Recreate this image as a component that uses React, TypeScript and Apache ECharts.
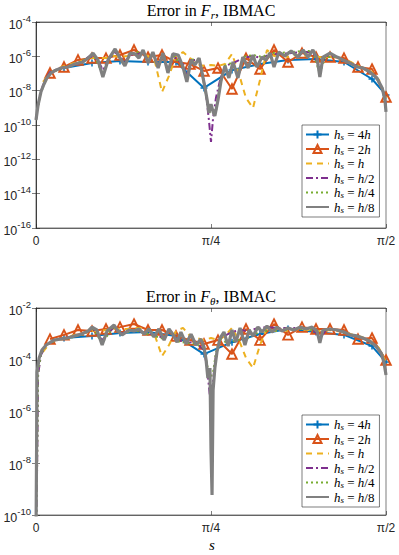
import React, { useEffect, useRef } from 'react';
import * as echarts from 'echarts';

// ---------- shared x positions (s / (pi/2)) ----------
const X_4H = [0.08, 0.16, 0.24, 0.32, 0.4, 0.48, 0.56, 0.64, 0.72, 0.8, 0.88, 0.96, 1.0];
const X_2H = [0.04, 0.08, 0.12, 0.16, 0.2, 0.24, 0.28, 0.32, 0.36, 0.4, 0.44, 0.48, 0.52, 0.56, 0.6, 0.64, 0.68, 0.72, 0.76, 0.8, 0.84, 0.88, 0.92, 0.96, 1.0];
const X_H = [0.02, 0.04, 0.06, 0.08, 0.1, 0.12, 0.14, 0.16, 0.18, 0.2, 0.22, 0.24, 0.26, 0.28, 0.3, 0.32, 0.34, 0.36, 0.38, 0.4, 0.42, 0.44, 0.46, 0.48, 0.5, 0.52, 0.54, 0.56, 0.58, 0.6, 0.62, 0.64, 0.66, 0.68, 0.7, 0.72, 0.74, 0.76, 0.78, 0.8, 0.82, 0.84, 0.86, 0.88, 0.9, 0.92, 0.94, 0.96, 0.98, 1.0];

// ---------- Error in F_r (log10 of error) ----------
const FR_4H_LOG = [-6.68, -6.39, -6.27, -6.33, -6.33, -7.84, -6.8, -6.45, -6.21, -6.15, -6.33, -7.32, -8.25];
const FR_2H_LOG = [-6.97, -6.62, -6.21, -6.1, -6.1, -5.92, -5.63, -6.04, -5.92, -6.33, -6.45, -6.85, -6.68, -7.9, -6.1, -6.74, -5.63, -6.33, -5.81, -6.04, -6.04, -6.1, -6.62, -6.74, -8.37];
const FR_H_LOG = [-7.49, -6.97, -6.74, -6.56, -6.45, -6.33, -6.21, -6.1, -6.1, -6.1, -5.98, -6.04, -5.98, -5.86, -5.86, -5.98, -6.33, -8.08, -7.14, -5.98, -5.75, -6.1, -6.45, -6.56, -6.5, -6.56, -6.45, -5.86, -7.03, -8.43, -9.01, -7.38, -5.63, -5.98, -5.92, -6.04, -5.92, -5.98, -5.98, -6.04, -6.04, -6.04, -6.1, -6.21, -6.33, -6.56, -6.74, -6.91, -7.38, -8.43];
const FR_H2_X = [0, 0.011, 0.023, 0.04, 0.069, 0.097, 0.126, 0.154, 0.177, 0.191, 0.206, 0.226, 0.254, 0.269, 0.306, 0.32, 0.334, 0.349, 0.363, 0.377, 0.391, 0.42, 0.431, 0.443, 0.466, 0.477, 0.486, 0.494, 0.5, 0.506, 0.514, 0.526, 0.54, 0.563, 0.591, 0.62, 0.646, 0.669, 0.697, 0.729, 0.763, 0.791, 0.811, 0.826, 0.86, 0.897, 0.934, 0.974, 0.989, 1.0];
const FR_H2_LOG = [-9.71, -8.25, -7.49, -6.91, -6.68, -6.56, -6.39, -5.98, -6.21, -6.8, -6.21, -5.75, -6.33, -5.92, -5.81, -6.33, -5.86, -6.56, -5.92, -6.8, -5.98, -6.45, -7.09, -6.21, -6.21, -7.09, -8.25, -9.71, -10.99, -9.59, -8.43, -7.38, -6.56, -6.39, -6.1, -5.98, -6.1, -5.86, -5.86, -5.81, -5.75, -5.75, -6.68, -5.98, -6.04, -6.39, -6.68, -7.26, -7.84, -8.83];
const FR_H4_X = [0, 0.011, 0.023, 0.04, 0.069, 0.111, 0.149, 0.163, 0.191, 0.206, 0.226, 0.254, 0.269, 0.306, 0.32, 0.334, 0.349, 0.363, 0.377, 0.391, 0.42, 0.431, 0.443, 0.466, 0.477, 0.489, 0.497, 0.506, 0.514, 0.526, 0.54, 0.563, 0.577, 0.591, 0.62, 0.646, 0.669, 0.694, 0.729, 0.763, 0.791, 0.811, 0.826, 0.86, 0.897, 0.934, 0.974, 0.989, 1.0];
const FR_H4_LOG = [-9.71, -8.31, -7.61, -6.97, -6.74, -6.45, -6.1, -5.86, -7.03, -6.21, -5.69, -6.45, -5.86, -5.69, -6.33, -5.81, -6.62, -5.86, -6.91, -5.92, -6.56, -7.38, -6.21, -6.15, -7.26, -8.66, -9.24, -9.13, -9.24, -7.67, -6.56, -6.33, -7.14, -6.04, -5.92, -6.04, -5.81, -5.81, -5.75, -5.69, -5.69, -7.03, -6.04, -6.04, -6.39, -6.68, -7.26, -7.84, -9.01];
const FR_H8_X = [0, 0.006, 0.014, 0.023, 0.031, 0.043, 0.057, 0.074, 0.091, 0.111, 0.134, 0.149, 0.163, 0.177, 0.191, 0.206, 0.226, 0.24, 0.254, 0.269, 0.283, 0.294, 0.306, 0.32, 0.334, 0.349, 0.363, 0.377, 0.391, 0.406, 0.42, 0.431, 0.443, 0.454, 0.466, 0.474, 0.483, 0.489, 0.494, 0.5, 0.506, 0.511, 0.52, 0.529, 0.54, 0.551, 0.563, 0.577, 0.591, 0.606, 0.62, 0.631, 0.646, 0.657, 0.669, 0.68, 0.694, 0.711, 0.729, 0.749, 0.763, 0.777, 0.791, 0.803, 0.811, 0.82, 0.84, 0.86, 0.877, 0.897, 0.917, 0.934, 0.954, 0.974, 0.989, 0.997, 1.0];
const FR_H8_LOG = [-9.71, -8.83, -8.08, -7.61, -7.26, -6.97, -6.8, -6.68, -6.62, -6.45, -6.33, -6.1, -5.81, -6.21, -7.2, -6.21, -5.57, -6.1, -6.56, -5.81, -5.86, -6.1, -5.63, -6.39, -5.75, -6.68, -5.81, -6.97, -5.86, -5.92, -6.62, -7.49, -6.21, -6.5, -6.1, -6.91, -7.84, -8.54, -9.3, -8.78, -9.24, -9.47, -8.54, -7.38, -6.56, -7.26, -6.33, -7.26, -6.04, -6.68, -5.92, -6.62, -6.04, -6.21, -5.81, -6.62, -5.75, -5.98, -5.69, -6.04, -5.63, -6.04, -5.63, -6.1, -7.2, -6.04, -5.81, -6.04, -6.21, -6.39, -6.62, -6.68, -6.91, -7.26, -7.84, -8.54, -9.24];

// ---------- Error in F_theta (log10 of error) ----------
const FT_4H_LOG = [-3.16, -3.08, -2.97, -2.93, -3.08, -3.78, -3.32, -3.01, -2.81, -2.93, -3.04, -3.47, -4.09];
const FT_2H_LOG = [-3.2, -3.04, -2.85, -2.89, -2.81, -2.74, -2.62, -2.85, -2.85, -3.08, -3.24, -3.39, -3.24, -3.78, -2.81, -3.24, -2.62, -3.04, -2.74, -2.81, -2.81, -2.85, -3.2, -3.16, -4.01];
const FT_H_LOG = [-3.7, -3.35, -3.24, -3.16, -3.08, -3.01, -2.97, -2.89, -2.89, -2.85, -2.81, -2.81, -2.81, -2.77, -2.77, -2.85, -3.08, -3.86, -3.43, -2.89, -2.77, -3.08, -3.16, -3.24, -3.16, -3.24, -3.08, -2.77, -3.24, -3.93, -4.32, -3.43, -2.77, -2.89, -2.85, -2.89, -2.81, -2.85, -2.85, -2.89, -2.89, -2.85, -2.89, -2.93, -3.01, -3.08, -3.16, -3.32, -3.55, -4.09];
const FT_H2_X = [0, 0.006, 0.014, 0.029, 0.057, 0.097, 0.137, 0.16, 0.189, 0.223, 0.246, 0.28, 0.309, 0.337, 0.366, 0.38, 0.403, 0.429, 0.457, 0.48, 0.489, 0.497, 0.506, 0.514, 0.526, 0.56, 0.583, 0.609, 0.634, 0.66, 0.689, 0.72, 0.754, 0.789, 0.811, 0.829, 0.86, 0.897, 0.934, 0.971, 0.989, 1.0];
const FT_H2_LOG = [-12, -4.59, -3.82, -3.43, -3.24, -3.12, -3.01, -2.77, -3.24, -2.74, -2.97, -2.85, -2.93, -3.04, -3.16, -2.85, -3.24, -3.32, -3.35, -3.62, -4.32, -5.44, -4.79, -3.82, -3.16, -2.93, -2.85, -2.89, -2.77, -2.74, -2.77, -2.77, -2.77, -2.77, -3.16, -2.85, -2.85, -3.04, -3.16, -3.47, -3.82, -4.48];
const FT_H4_X = [0, 0.006, 0.014, 0.029, 0.057, 0.097, 0.137, 0.16, 0.189, 0.223, 0.246, 0.28, 0.309, 0.337, 0.366, 0.38, 0.403, 0.429, 0.457, 0.48, 0.489, 0.497, 0.506, 0.514, 0.526, 0.549, 0.571, 0.597, 0.62, 0.646, 0.674, 0.703, 0.737, 0.771, 0.803, 0.811, 0.82, 0.86, 0.897, 0.934, 0.971, 0.989, 1.0];
const FT_H4_LOG = [-12, -4.48, -3.78, -3.43, -3.24, -3.16, -3.01, -2.74, -3.35, -2.7, -3.01, -2.85, -2.97, -3.08, -3.2, -2.81, -3.28, -3.35, -3.39, -3.55, -4.2, -4.71, -4.48, -3.74, -3.16, -3.39, -3.24, -3.24, -3.04, -2.89, -2.89, -2.85, -2.81, -2.81, -2.89, -3.28, -2.85, -2.85, -3.04, -3.16, -3.47, -3.78, -4.55];
const FT_H8_X = [0, 0.003, 0.009, 0.017, 0.029, 0.051, 0.089, 0.129, 0.149, 0.16, 0.174, 0.189, 0.203, 0.223, 0.234, 0.246, 0.266, 0.28, 0.294, 0.309, 0.323, 0.337, 0.351, 0.366, 0.38, 0.391, 0.403, 0.414, 0.429, 0.443, 0.457, 0.471, 0.48, 0.486, 0.491, 0.497, 0.5, 0.503, 0.506, 0.511, 0.517, 0.526, 0.537, 0.549, 0.56, 0.571, 0.583, 0.597, 0.609, 0.62, 0.634, 0.646, 0.66, 0.674, 0.689, 0.703, 0.72, 0.737, 0.754, 0.771, 0.789, 0.803, 0.811, 0.82, 0.84, 0.86, 0.88, 0.897, 0.917, 0.934, 0.954, 0.971, 0.986, 0.994, 1.0];
const FT_H8_LOG = [-11, -4.48, -3.93, -3.62, -3.43, -3.24, -3.16, -3.01, -2.89, -2.74, -2.85, -3.43, -2.89, -2.66, -2.89, -3.04, -2.85, -2.89, -2.81, -3.01, -2.81, -3.12, -2.81, -3.24, -2.81, -3.01, -3.32, -2.93, -3.39, -3.01, -3.43, -3.2, -3.51, -4.01, -4.71, -4.32, -7.49, -9.23, -5.17, -4.32, -3.7, -3.16, -2.93, -3.47, -2.85, -3.32, -2.77, -3.43, -2.85, -3.08, -2.74, -2.93, -2.7, -2.93, -2.74, -2.89, -2.77, -2.85, -2.74, -2.81, -2.74, -2.89, -3.35, -2.85, -2.81, -2.85, -2.93, -3.04, -3.08, -3.16, -3.28, -3.47, -3.74, -4.09, -4.59];

// ---------- ticks & labels ----------
const FR_Y_TICKS = [1e-16, 1e-14, 1e-12, 1e-10, 1e-8, 1e-6, 1e-4];
const FT_Y_TICKS = [1e-10, 1e-8, 1e-6, 1e-4, 1e-2];
const X_TICKS = [0, 0.5, 1];
const X_TICK_LABELS = ['0', 'π/4', 'π/2'];
const SERIES_NAMES = ['hs = 4h', 'hs = 2h', 'hs = h', 'hs = h/2', 'hs = h/4', 'hs = h/8'];
const LEGEND_TEXT: Record<string, string> = {
  'hs = 4h': '{i|h}{sub|s}{n| = 4}{i|h}',
  'hs = 2h': '{i|h}{sub|s}{n| = 2}{i|h}',
  'hs = h': '{i|h}{sub|s}{n| = }{i|h}',
  'hs = h/2': '{i|h}{sub|s}{n| = }{i|h}{n|/2}',
  'hs = h/4': '{i|h}{sub|s}{n| = }{i|h}{n|/4}',
  'hs = h/8': '{i|h}{sub|s}{n| = }{i|h}{n|/8}',
};
const TITLES = [
  '{n|Error in }{i|F}{s|r}{n|, IBMAC}',
  '{n|Error in }{i|F}{s|θ}{n|, IBMAC}',
];

const SANS = '"Liberation Sans", Arial, sans-serif';
const SERIF = '"Liberation Serif", "DejaVu Serif", serif';
const AXIS = '#262626';
const CLEAR = 'rgba(255,255,255,0)';

const STYLES = [
  { color: '#0072BD', width: 2, type: 'solid' as any, symbol: 'path://M5 0V10M0 5H10', size: 7, bw: 1.5 },
  { color: '#D95319', width: 2, type: 'solid' as any, symbol: 'triangle', size: 9.5, bw: 1.9 },
  { color: '#EDB120', width: 2, type: [6, 5] as any, symbol: '', size: 0, bw: 0 },
  { color: '#7E2F8E', width: 2, type: [7, 3, 2, 3] as any, symbol: '', size: 0, bw: 0 },
  { color: '#77AC30', width: 2, type: [2, 3] as any, symbol: '', size: 0, bw: 0 },
  { color: '#808080', width: 3.2, type: 'solid' as any, symbol: '', size: 0, bw: 0 },
];

const toData = (xs: number[], logs: number[]) => {
  const n = Math.min(xs.length, logs.length);
  const out: number[][] = [];
  for (let i = 0; i < n; i++) out.push([xs[i], Math.pow(10, logs[i])]);
  return out;
};

const makeSeries = (axisIdx: number, sets: [number[], number[]][]) =>
  sets.map(([xs, logs], k) => {
    const st = STYLES[k];
    return {
      type: 'line',
      name: SERIES_NAMES[k],
      xAxisIndex: axisIdx,
      yAxisIndex: axisIdx,
      data: toData(xs, logs),
      showSymbol: !!st.symbol,
      symbol: st.symbol || 'none',
      symbolSize: st.size,
      clip: true,
      silent: true,
      z: 2 + k,
      lineStyle: { color: st.color, width: st.width, type: st.type },
      itemStyle: st.symbol
        ? { color: CLEAR, borderColor: st.color, borderWidth: st.bw }
        : { color: CLEAR, borderColor: CLEAR, borderWidth: 0 },
      emphasis: { disabled: true },
    };
  });

const GRIDS = [
  { top: 22, height: 206, ymin: 1e-16, ymax: 1e-4, ticks: FR_Y_TICKS, legendTop: 125, titleY: 10 },
  { top: 308, height: 207, ymin: 1e-10, ymax: 1e-2, ticks: FT_Y_TICKS, legendTop: 415, titleY: 296 },
];

const buildOption = () => {
  const grid = GRIDS.map((g) => ({ left: 36, width: 350, top: g.top, height: g.height, show: true, borderColor: AXIS, borderWidth: 0.6, backgroundColor: '#fff' }));
  const xAxis: any[] = [];
  const yAxis: any[] = [];
  GRIDS.forEach((g, gi) => {
    ['bottom', 'top'].forEach((pos) => {
      xAxis.push({
        type: 'value', gridIndex: gi, position: pos, min: 0, max: 1, interval: 0.5,
        axisLine: { show: true, onZero: false, lineStyle: { color: AXIS, width: 0.6 } },
        axisTick: { show: true, inside: true, length: 4, customValues: X_TICKS, lineStyle: { color: AXIS, width: 0.6 } },
        axisLabel: {
          show: pos === 'bottom', margin: 7, color: '#262626', fontFamily: SANS, fontSize: 12,
          customValues: X_TICKS,
          formatter: (v: number) => X_TICK_LABELS[Math.round(v * 2)] ?? '',
        },
        splitLine: { show: false },
      });
    });
    ['left', 'right'].forEach((pos) => {
      yAxis.push({
        type: 'log', logBase: 10, gridIndex: gi, position: pos, min: g.ymin, max: g.ymax,
        axisLine: { show: true, lineStyle: { color: AXIS, width: 0.6 } },
        axisTick: { show: true, inside: true, length: 4, customValues: g.ticks, lineStyle: { color: AXIS, width: 0.6 } },
        axisLabel: {
          show: pos === 'left', margin: 5, customValues: g.ticks,
          formatter: (v: number) => `{b|10}{e|${Math.round(Math.log10(v))}}`,
          rich: {
            b: { fontFamily: SANS, fontSize: 12.5, color: '#262626', lineHeight: 18, verticalAlign: 'bottom' },
            e: { fontFamily: SANS, fontSize: 9.5, color: '#262626', lineHeight: 11, verticalAlign: 'top' },
          },
        },
        splitLine: { show: false },
      });
    });
  });

  const series = [
    ...makeSeries(0, [[X_4H, FR_4H_LOG], [X_2H, FR_2H_LOG], [X_H, FR_H_LOG], [FR_H2_X, FR_H2_LOG], [FR_H4_X, FR_H4_LOG], [FR_H8_X, FR_H8_LOG]]),
    ...makeSeries(2, [[X_4H, FT_4H_LOG], [X_2H, FT_2H_LOG], [X_H, FT_H_LOG], [FT_H2_X, FT_H2_LOG], [FT_H4_X, FT_H4_LOG], [FT_H8_X, FT_H8_LOG]]),
  ];

  const legendRich = {
    i: { fontFamily: SERIF, fontStyle: 'italic', fontSize: 13, lineHeight: 14, color: '#000' },
    n: { fontFamily: SERIF, fontSize: 13, lineHeight: 14, color: '#000' },
    sub: { fontFamily: SERIF, fontStyle: 'italic', fontSize: 9, lineHeight: 8, verticalAlign: 'bottom', color: '#000' },
  };
  const legend = GRIDS.map((g) => ({
    orient: 'vertical', left: 302, top: g.legendTop, itemWidth: 23, itemHeight: 10, itemGap: 1, itemTextGap: 3,
    padding: [3, 5, 3, 3], borderColor: AXIS, borderWidth: 0.6, backgroundColor: '#fff',
    data: SERIES_NAMES, selectedMode: false, z: 20,
    formatter: (name: string) => LEGEND_TEXT[name] ?? name,
    textStyle: { rich: legendRich },
  }));

  const titleRich = {
    n: { fontFamily: SERIF, fontSize: 16, lineHeight: 20, fill: '#000', color: '#000' },
    i: { fontFamily: SERIF, fontSize: 16, fontStyle: 'italic', lineHeight: 20, fill: '#000', color: '#000' },
    s: { fontFamily: SERIF, fontSize: 11, fontStyle: 'italic', lineHeight: 12, verticalAlign: 'bottom', fill: '#000', color: '#000' },
  };
  const graphic: any[] = GRIDS.map((g, gi) => ({
    type: 'text', x: 211, y: g.titleY, z: 30,
    style: { text: TITLES[gi], rich: titleRich, align: 'center', verticalAlign: 'middle', fill: '#000' },
  }));
  graphic.push({
    type: 'text', x: 212, y: 545, z: 30,
    style: { text: 's', fontFamily: SERIF, fontStyle: 'italic', fontSize: 15, align: 'center', verticalAlign: 'middle', fill: '#000' },
  });

  return { animation: false, backgroundColor: '#fff', grid, xAxis, yAxis, series, legend, graphic };
};

export default function App() {
  const ref = useRef<HTMLDivElement>(null);
  useEffect(() => {
    if (!ref.current) return;
    const chart = echarts.init(ref.current, null, { renderer: 'svg' });
    chart.setOption(buildOption() as any);
    return () => chart.dispose();
  }, []);
  return <div ref={ref} style={{ position: 'absolute', left: 0, top: 0, width: 399, height: 555, background: '#fff' }} />;
}
